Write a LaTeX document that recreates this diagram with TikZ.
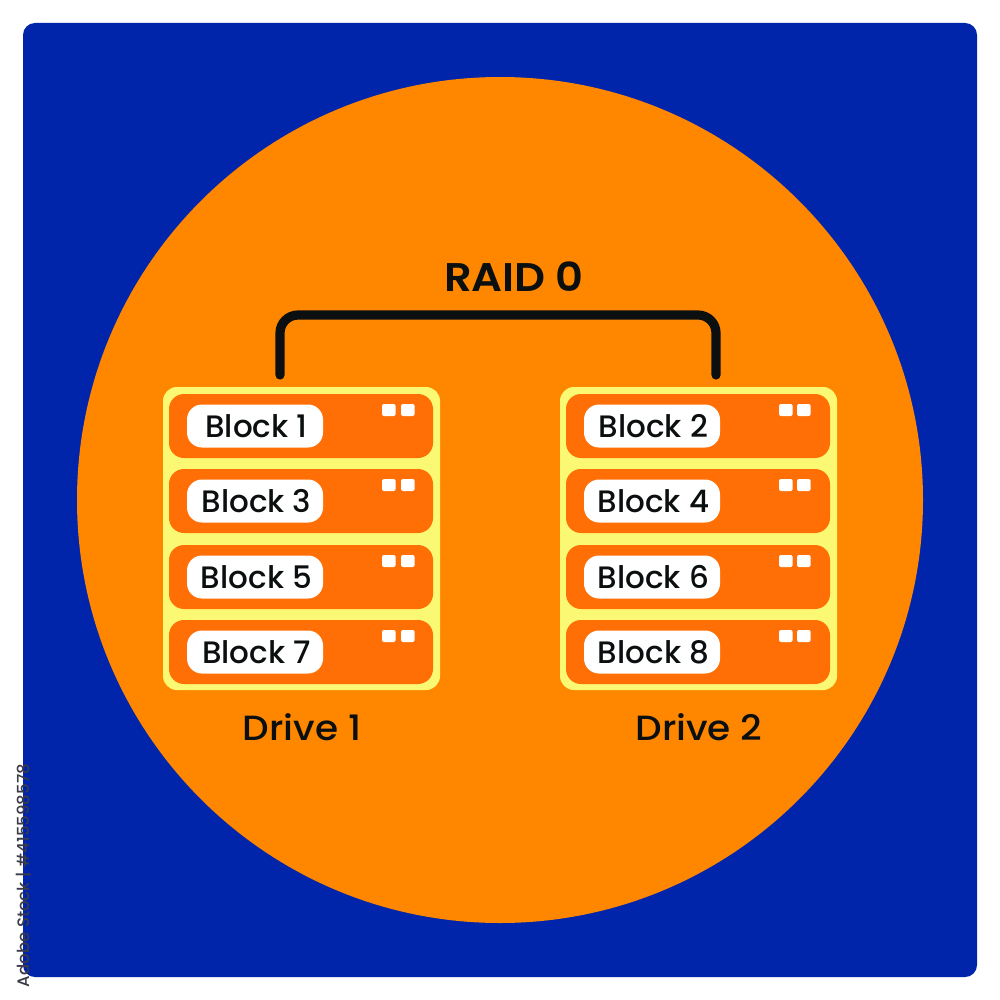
\documentclass[tikz,border=0pt]{standalone}
\usepackage{fontspec}
\setmainfont{Poppins}
\newfontfamily\blockfont{Poppins Medium}
\newfontfamily\capfont[FakeStretch=1.07]{Poppins Medium}
\newfontfamily\titlefont[FakeStretch=1.08]{Poppins SemiBold}
\definecolor{bluebg}{HTML}{0024AA}
\definecolor{orangebg}{HTML}{FF8700}
\definecolor{rowc}{HTML}{FF6F05}
\definecolor{yellowc}{HTML}{FBF973}
\definecolor{inkc}{HTML}{0B0F10}
\definecolor{stampc}{HTML}{3C3C48}
\tikzset{
  px/.style={x=0.5pt,y=-0.5pt},
  box/.style={inner sep=0pt,outer sep=0pt,shape=rectangle},
  drivebox/.style={box,fill=yellowc,minimum width=138.5pt,minimum height=151.5pt,rounded corners=7pt},
  rowbox/.style={box,fill=rowc,minimum width=132pt,minimum height=32pt,rounded corners=7.5pt},
  pill/.style={box,fill=white,minimum width=68pt,minimum height=21.5pt,rounded corners=7.5pt,text=inkc,font=\blockfont\fontsize{15.5}{18}\selectfont},
  led/.style={box,fill=white,minimum width=6.8pt,minimum height=6pt,rounded corners=1pt},
  caption/.style={inner sep=0pt,text=inkc,font=\capfont\fontsize{17.5}{20}\selectfont},
  title/.style={inner sep=0pt,text=inkc,font=\titlefont\fontsize{20}{24}\selectfont},
  link/.style={draw=inkc,line width=4.6pt,rounded corners=9pt,line cap=round},
  stamp/.style={inner sep=0pt,text=stampc,font=\blockfont\fontsize{8.3}{10}\selectfont,rotate=90}
}
\begin{document}
\begin{tikzpicture}[px]
\useasboundingbox (0,0) rectangle (1000,1000);
\fill[white] (0,0) rectangle (1000,1000);
\fill[bluebg,rounded corners=6pt] (23,23) rectangle (977,977);
\fill[orangebg] (500,500) circle[radius=423];
\node[stamp] (stock) at (24,875.5) {Adobe Stock | \#415598578};
\node[title] (raid) at (514,277) {RAID 0};

\node[drivebox] (d1) at (301.5,538.5) {};
\node[drivebox] (d2) at (698.5,538.5) {};
\foreach \dn/\cx/\px/\la/\lb in {1/301/255/382/401,2/698/652/779/797}{
  \foreach \rn/\cy in {1/426,2/501,3/577,4/652}{
    \node[rowbox] (r\dn\rn) at (\cx,\cy) {};
    \pgfmathtruncatemacro{\bval}{2*\rn-1+\dn-1}
    \node[pill] (p\dn\rn) at (\px,\cy) {\kern1.5pt Block \bval};
    \node[led] (la\dn\rn) at ({\la+6.8},{\cy-16}) {};
    \node[led] (lb\dn\rn) at ({\lb+6.8},{\cy-16}) {};
  }
}
\node[caption] (c1) at (302,727) {Drive 1};
\node[caption] (c2) at (699,727) {Drive 2};

\coordinate (la) at (280,375);
\coordinate (lb) at (716,375);
\draw[link] (la) -- (280,315) -- (716,315) -- (lb);
\end{tikzpicture}
\end{document}
